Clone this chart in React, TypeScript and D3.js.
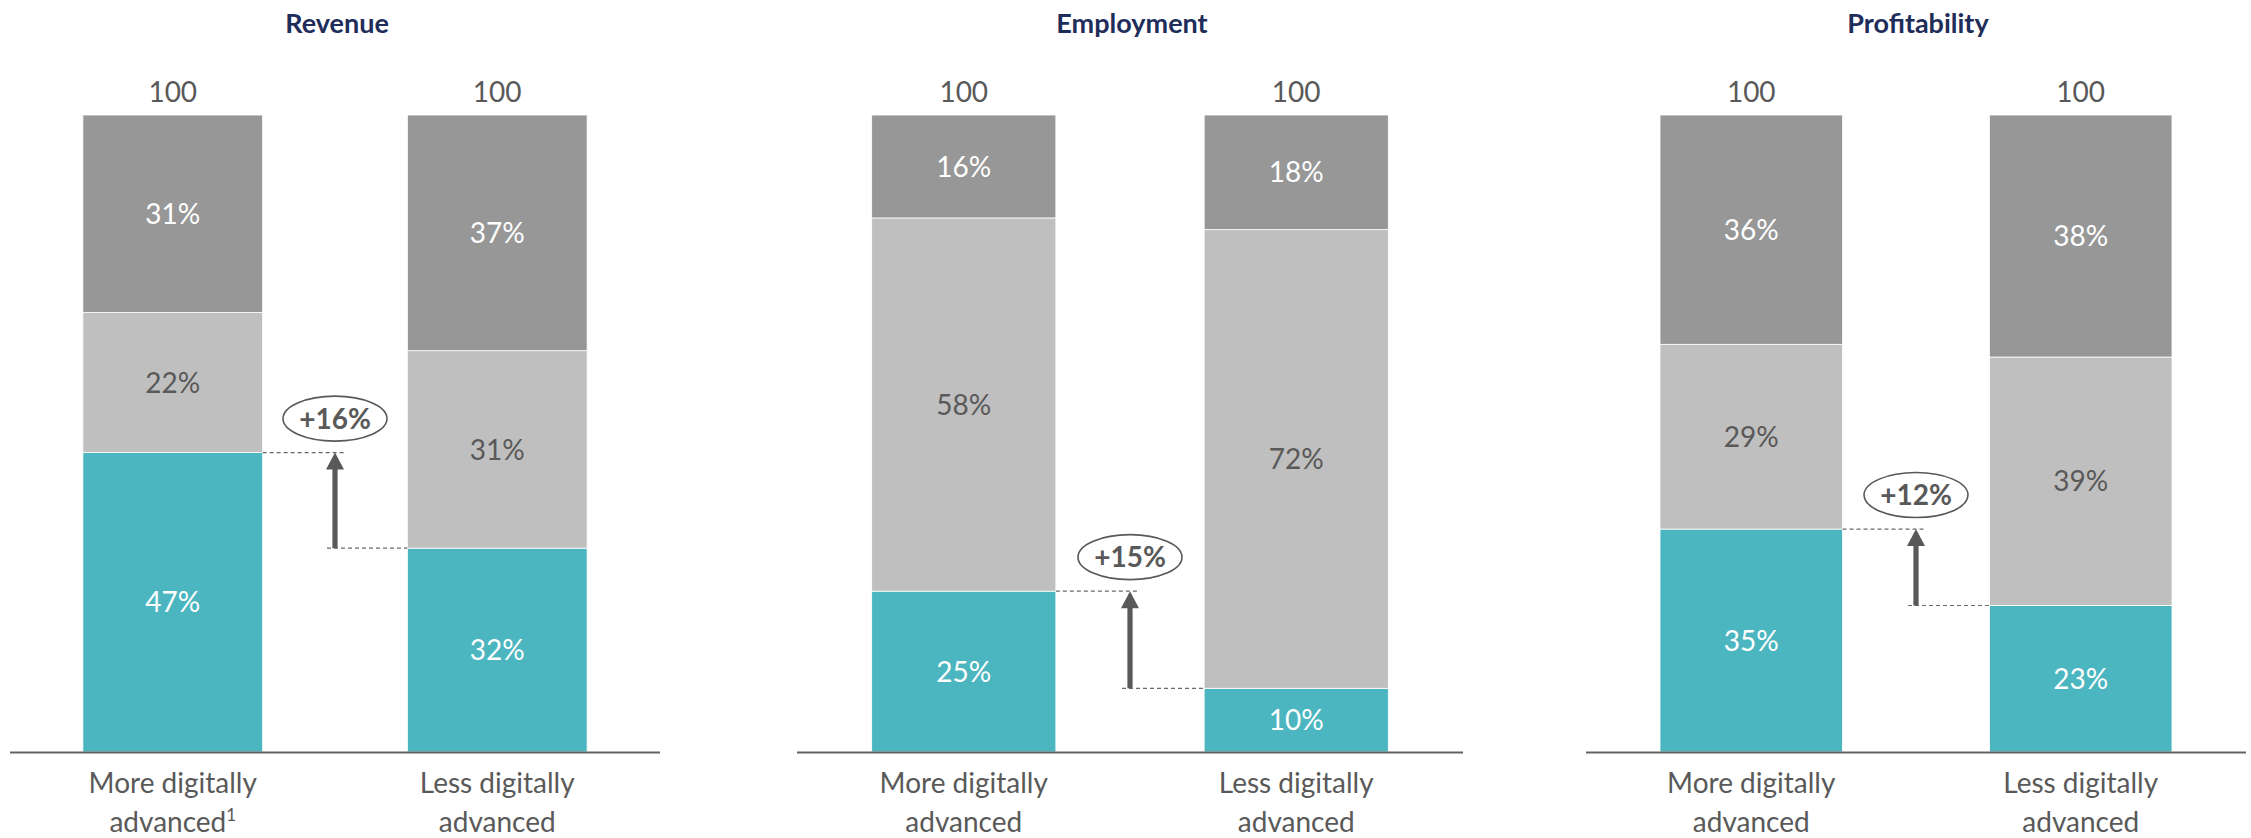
import React from "react";
import * as d3 from "d3";

const panelTitles = ["Revenue", "Employment", "Profitability"];
const groupLines = [
  ["More digitally", "advanced"],
  ["Less digitally", "advanced"],
];
const seriesKeys = ["teal", "light", "dark"];

const revenueTeal = [47, 32];
const revenueLight = [22, 31];
const revenueDark = [31, 37];

const employmentTeal = [25, 10];
const employmentLight = [58, 72];
const employmentDark = [16, 18];

const profitTeal = [35, 23];
const profitLight = [29, 39];
const profitDark = [36, 38];

const totalLabels = ["100", "100"];
const deltaLabels = ["+16%", "+15%", "+12%"];
const footnoteMarks = ["1", "", ""];

const panelValues = [
  [revenueTeal, revenueLight, revenueDark],
  [employmentTeal, employmentLight, employmentDark],
  [profitTeal, profitLight, profitDark],
];

// layout
const W = 2251;
const H = 838;
const axisRanges: [number, number][] = [
  [10, 660],
  [797, 1463],
  [1586, 2246],
];
const yBase = 752;
const yTop = 115;
const FONT = "Lato, 'Open Sans', sans-serif";
const colors: Record<string, string> = { teal: "#4CB6C0", light: "#BFBFBF", dark: "#979797" };
const labelColors: Record<string, string> = { teal: "#FFFFFF", light: "#595959", dark: "#FFFFFF" };
const textGrey = "#595959";

function Panel({ idx }: { idx: number }) {
  const [teal, light, dark] = panelValues[idx];
  const rows = [0, 1].map((i) => ({ i, teal: teal[i], light: light[i], dark: dark[i] }));
  const stacked = d3.stack<any>().keys(seriesKeys).offset(d3.stackOffsetExpand)(rows);
  const [x0, x1] = axisRanges[idx];
  const x = d3
    .scaleBand<number>()
    .domain([0, 1])
    .range([x0, x1])
    .paddingInner(0.446)
    .paddingOuter(0.2246);
  const y = d3.scaleLinear().domain([0, 1]).range([yBase, yTop]);
  const bw = x.bandwidth();
  const cx = (x0 + x1) / 2;
  const tealSeries = stacked[0];
  const yHi = y(tealSeries[0][1]);
  const yLo = y(tealSeries[1][1]);
  const headLen = 17;
  const headHalf = 9;
  const shaftHalf = 2.6;

  return (
    <g>
      <text
        x={cx + 2}
        y={33}
        textAnchor="middle"
        fontFamily={FONT}
        fontWeight="bold"
        fontSize={27}
        fill="#1F2D5A"
      >
        {panelTitles[idx]}
      </text>
      {stacked.map((s) => (
        <g key={s.key}>
          {s.map((d, j) => (
            <g key={j}>
              <rect
                x={x(j)}
                y={y(d[1])}
                width={bw}
                height={y(d[0]) - y(d[1])}
                fill={colors[s.key]}
                stroke="#ffffff"
                strokeWidth={0.8}
              />
              <text
                x={(x(j) as number) + bw / 2}
                y={(y(d[0]) + y(d[1])) / 2}
                dy="0.36em"
                textAnchor="middle"
                fontFamily={FONT}
                fontSize={28}
                fill={labelColors[s.key]}
              >
                {`${panelValues[idx][seriesKeys.indexOf(s.key)][j]}%`}
              </text>
            </g>
          ))}
        </g>
      ))}
      {[0, 1].map((j) => (
        <text
          key={"t" + j}
          x={(x(j) as number) + bw / 2}
          y={102}
          textAnchor="middle"
          fontFamily={FONT}
          fontSize={28}
          fill={textGrey}
        >
          {totalLabels[j]}
        </text>
      ))}
      <line x1={x0} x2={x1} y1={yBase + 0.5} y2={yBase + 0.5} stroke="#626262" strokeWidth={2.2} />
      {[0, 1].map((j) => (
        <g key={"xl" + j}>
          <text
            x={(x(j) as number) + bw / 2}
            y={793}
            textAnchor="middle"
            fontFamily={FONT}
            fontSize={28}
            fill={textGrey}
          >
            {groupLines[j][0]}
          </text>
          <text
            x={(x(j) as number) + bw / 2}
            y={832}
            textAnchor="middle"
            fontFamily={FONT}
            fontSize={28}
            fill={textGrey}
          >
            {groupLines[j][1]}
            {j === 0 && footnoteMarks[idx] ? (
              <tspan fontSize={17} dy={-11}>
                {footnoteMarks[idx]}
              </tspan>
            ) : null}
          </text>
        </g>
      ))}
      {/* dashed guide lines */}
      <line
        x1={(x(0) as number) + bw}
        x2={cx + 10}
        y1={yHi}
        y2={yHi}
        stroke="#6a6a6a"
        strokeWidth={1.2}
        strokeDasharray="4,3"
      />
      <line
        x1={cx - 8}
        x2={x(1) as number}
        y1={yLo}
        y2={yLo}
        stroke="#6a6a6a"
        strokeWidth={1.2}
        strokeDasharray="4,3"
      />
      {/* arrow */}
      <rect x={cx - shaftHalf} y={yHi + headLen - 1} width={shaftHalf * 2} height={yLo - yHi - headLen + 1} fill="#595959" />
      <path
        d={`M${cx},${yHi} L${cx + headHalf},${yHi + headLen} L${cx - headHalf},${yHi + headLen} Z`}
        fill="#595959"
      />
      {/* delta bubble */}
      <ellipse cx={cx} cy={yHi - 34} rx={52} ry={22.5} fill="#ffffff" stroke="#595959" strokeWidth={1.6} />
      <text
        x={cx}
        y={yHi - 34}
        dy="0.36em"
        textAnchor="middle"
        fontFamily={FONT}
        fontWeight="bold"
        fontSize={28}
        fill={textGrey}
      >
        {deltaLabels[idx]}
      </text>
    </g>
  );
}

export default function App() {
  return (
    <svg
      width={W}
      height={H}
      viewBox={`0 0 ${W} ${H}`}
      style={{ position: "absolute", left: 0, top: 0, background: "#ffffff" }}
    >
      <rect x={0} y={0} width={W} height={H} fill="#ffffff" />
      {[0, 1, 2].map((i) => (
        <Panel key={i} idx={i} />
      ))}
    </svg>
  );
}
